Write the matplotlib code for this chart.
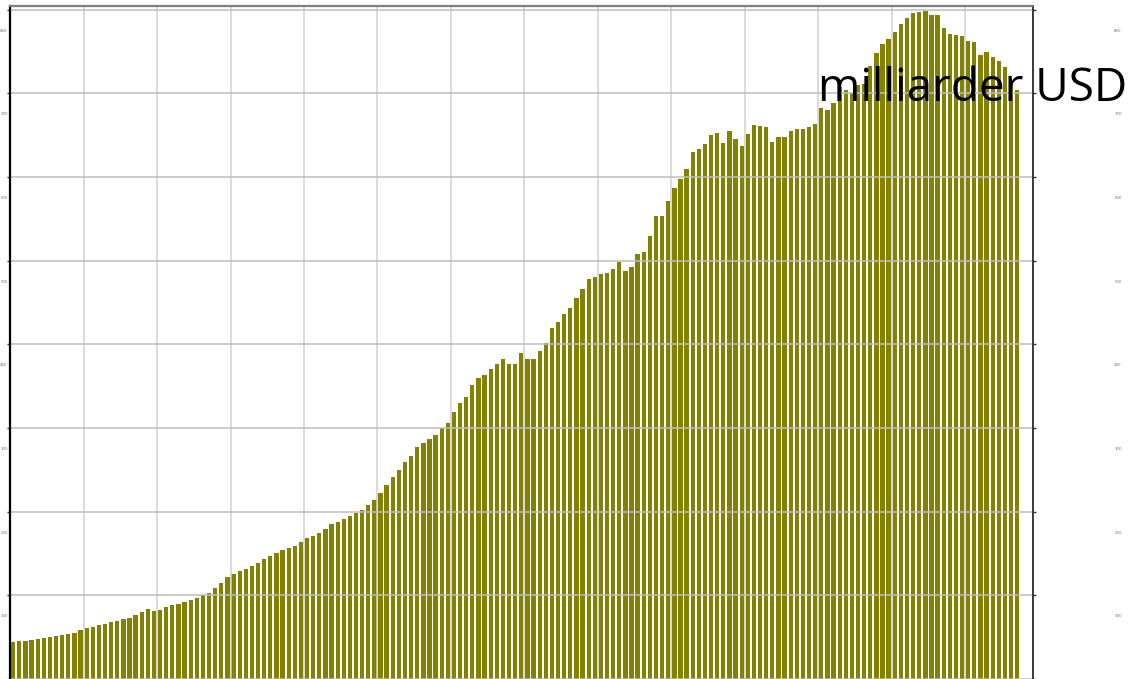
import matplotlib
matplotlib.use("Agg")
import matplotlib.pyplot as plt
import matplotlib.transforms as mtransforms
import numpy as np

# ---- data (units: milliarder USD) ----
values = [
    44, 45, 46, 47, 48, 49, 50, 51, 52, 54, 55, 58,
    61, 62, 64, 66, 68, 69, 72, 73, 77, 80, 84, 81,
    83, 86, 88, 90, 92, 94, 97, 100, 103, 109, 115, 122,
    125, 129, 132, 135, 139, 143, 147, 151, 154, 157, 159, 164,
    169, 171, 175, 179, 185, 188, 191, 195, 198, 202, 208, 214,
    222, 232, 241, 250, 259, 267, 277, 282, 287, 292, 300, 306,
    319, 330, 337, 352, 360, 363, 370, 377, 382, 377, 377, 390,
    383, 383, 392, 402, 419, 427, 436, 443, 455, 466, 478, 481,
    484, 485, 490, 499, 488, 492, 508, 510, 530, 553, 554, 571,
    587, 598, 610, 630, 634, 640, 650, 653, 641, 655, 645, 637,
    651, 662, 661, 660, 642, 648, 648, 655, 658, 658, 660, 663,
    683, 680, 689, 708, 704, 701, 710, 711, 733, 748, 759, 765,
    774, 783, 790, 796, 797, 799, 794, 794, 778, 771, 770, 769,
    763, 761, 746, 750, 743, 739, 731, 712, 704,
]
ytick_values = [100, 200, 300, 400, 500, 600, 700, 800]
ytick_labels = ["100", "200", "300", "400", "500", "600", "700", "800"]
unit_label = "milliarder USD"

n = len(values)
x = np.arange(n)

fig = plt.figure(figsize=(11.32, 6.79), dpi=100)
ax = fig.add_axes([10 / 1132, 0.0, (1032.5 - 10) / 1132, 673.5 / 679])

ax.bar(x, values, width=0.70, color="#828200", zorder=2)

ax.set_xlim(-0.52, 166.5)
ax.set_ylim(0, 805.1)

# vertical grid positions (between bars, every 12 bars)
xgrid = np.arange(11.5, n, 12)
ax.set_xticks(xgrid)
ax.tick_params(axis="x", length=0, labelbottom=False)

ax.set_yticks([0] + ytick_values)
ax.tick_params(axis="y", which="both", direction="out", length=2.5, width=1,
               color="#333333", left=True, right=True,
               labelleft=False, labelright=False)

ax.grid(axis="x", color="#cfcfcf", linewidth=1.3, alpha=0.85, zorder=3)
ax.grid(axis="y", color="#bdbdbd", linewidth=1.3, alpha=0.85, zorder=3)
ax.set_axisbelow(False)

# tiny tick labels, drawn slightly below their ticks (as in the reference)
offset = mtransforms.ScaledTranslation(0, -21 / 100, fig.dpi_scale_trans)
tr_lab = mtransforms.blended_transform_factory(fig.transFigure, ax.transData) + offset
for v, lab in zip(ytick_values, ytick_labels):
    ax.text(4 / 1132, v, lab, transform=tr_lab, fontsize=2.8, color="#777777",
            ha="center", va="center")
    ax.text(1118 / 1132, v, lab, transform=tr_lab, fontsize=2.8, color="#777777",
            ha="center", va="center")

# spines
ax.spines["left"].set_color("#000000")
ax.spines["left"].set_linewidth(1.6)
ax.spines["top"].set_color("#7f7f7f")
ax.spines["top"].set_linewidth(1.6)
ax.spines["right"].set_color("#2a2a2a")
ax.spines["right"].set_linewidth(1.3)
ax.spines["bottom"].set_visible(False)
for s in ax.spines.values():
    s.set_zorder(5)

fig.text(818 / 1132, 1 - 101 / 679, unit_label, fontsize=33,
         family=["Open Sans", "DejaVu Sans"], color="#000000",
         ha="left", va="baseline", zorder=10)

fig.savefig("out.png", dpi=100)
